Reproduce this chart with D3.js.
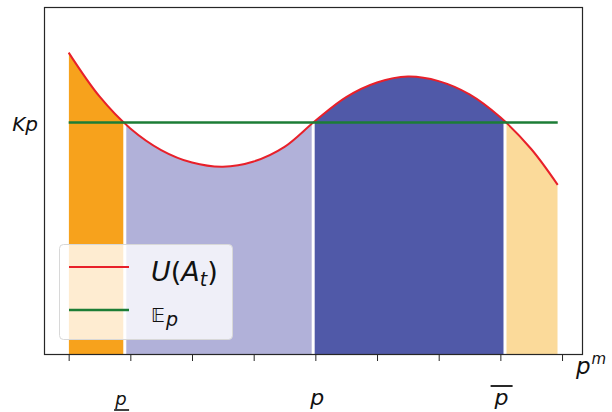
<!DOCTYPE html>
<html>
<head>
<meta charset="utf-8">
<script src="https://cdn.jsdelivr.net/npm/d3@7"></script>
<style>
  html, body { margin: 0; padding: 0; background: #ffffff; }
  svg { display: block; }
  text { font-family: "DejaVu Sans", sans-serif; }
</style>
</head>
<body>
<svg id="chart" width="612" height="412"></svg>
<script>
// Utility curve U(A_t) sampled along the price axis p^m
const priceGrid = [0, 0.5, 1.0, 1.5, 2.0, 2.5, 3.0, 3.5, 4.0, 4.5, 5.0, 5.5, 6.0, 6.5, 7.0, 7.5, 7.93];
const utility   = [8.69, 7.43, 6.51, 5.89, 5.53, 5.41, 5.56, 5.98, 6.73, 7.41, 7.83, 8.00, 7.87, 7.49, 6.83, 5.92, 4.89];

// Expected payoff level Kp
const kpLevel = 6.68;
const kpRange = [0, 7.93];

// Price points where U crosses Kp, splitting the shaded regions
const crossings = [0.91, 3.965, 7.075];
const regionColors = ["#f7a21c", "#b1b1d9", "#5059a8", "#fbda9a"];

// Axis ticks and the price labels below them
const tickValues = [0, 1, 2, 3, 4, 5, 6, 7, 8];
const priceLabels = [
  { pos: 0.85, kind: "under" },
  { pos: 4.03, kind: "plain" },
  { pos: 7.02, kind: "over" }
];

const legendItems = [
  { key: "U", color: "#e8202a", width: 2 },
  { key: "E", color: "#1c7d36", width: 2.5 }
];

const svg = d3.select("#chart");
const margin = { left: 44, right: 29, top: 7, bottom: 57 };
const W = 612, H = 412;

const x = d3.scaleLinear().domain([-0.4, 8.34]).range([margin.left, W - margin.right]);
const y = d3.scaleLinear().domain([0, 10]).range([H - margin.bottom, margin.top]);

const pts = priceGrid.map((p, i) => [p, utility[i]]);

// Region bounds along x
const bounds = [priceGrid[0], ...crossings, priceGrid[priceGrid.length - 1]];

const defs = svg.append("defs");
bounds.slice(0, -1).forEach((b, i) => {
  defs.append("clipPath").attr("id", "reg" + i)
    .append("rect")
    .attr("x", x(b))
    .attr("y", 0)
    .attr("width", x(bounds[i + 1]) - x(b))
    .attr("height", H);
});

const smooth = d3.curveCatmullRom.alpha(0.5);

const area = d3.area()
  .x(d => x(d[0]))
  .y0(y(0))
  .y1(d => y(d[1]))
  .curve(smooth);

const line = d3.line()
  .x(d => x(d[0]))
  .y(d => y(d[1]))
  .curve(smooth);

regionColors.forEach((c, i) => {
  svg.append("path")
    .datum(pts)
    .attr("d", area)
    .attr("fill", c)
    .attr("clip-path", `url(#reg${i})`);
});

// White separators at the crossing points
svg.append("g").selectAll("line")
  .data(crossings)
  .join("line")
  .attr("x1", d => x(d)).attr("x2", d => x(d))
  .attr("y1", y(0)).attr("y2", d => y(kpLevel))
  .attr("stroke", "#ffffff")
  .attr("stroke-width", 3);

// Utility curve
svg.append("path")
  .datum(pts)
  .attr("d", line)
  .attr("fill", "none")
  .attr("stroke", legendItems[0].color)
  .attr("stroke-width", 2);

// Kp level
svg.append("line")
  .attr("x1", x(kpRange[0])).attr("x2", x(kpRange[1]))
  .attr("y1", y(kpLevel)).attr("y2", y(kpLevel))
  .attr("stroke", legendItems[1].color)
  .attr("stroke-width", 2.5);

// Frame
svg.append("rect")
  .attr("x", margin.left + 0.5).attr("y", margin.top + 0.5)
  .attr("width", W - margin.left - margin.right - 1)
  .attr("height", H - margin.top - margin.bottom - 1)
  .attr("fill", "none")
  .attr("stroke", "#262626")
  .attr("stroke-width", 1.2);

// Bottom axis: ticks only
const xAxis = d3.axisBottom(x).tickValues(tickValues).tickSize(6).tickFormat("");
const gx = svg.append("g")
  .attr("transform", `translate(0,${y(0)})`)
  .call(xAxis);
gx.select(".domain").remove();
gx.selectAll(".tick line").attr("stroke", "#262626").attr("stroke-width", 1);

// y label Kp
svg.append("text")
  .attr("x", 38).attr("y", y(kpLevel) + 8)
  .attr("text-anchor", "end")
  .attr("font-size", 20)
  .attr("font-style", "italic")
  .attr("fill", "#111")
  .text("Kp");

// Price labels
priceLabels.forEach(l => {
  const cx = x(l.pos);
  const fs = l.kind === "under" ? 18 : 22;
  svg.append("text")
    .attr("x", cx).attr("y", 405)
    .attr("text-anchor", "middle")
    .attr("font-size", fs)
    .attr("font-style", "italic")
    .attr("fill", "#111")
    .text("p");
  if (l.kind === "under") {
    svg.append("line")
      .attr("x1", cx - 7).attr("x2", cx + 8)
      .attr("y1", 410).attr("y2", 410)
      .attr("stroke", "#111").attr("stroke-width", 1.6);
  } else if (l.kind === "over") {
    svg.append("line")
      .attr("x1", cx - 11).attr("x2", cx + 11)
      .attr("y1", 386).attr("y2", 386)
      .attr("stroke", "#111").attr("stroke-width", 1.8);
  }
});

// Axis label p^m
const pm = svg.append("text")
  .attr("x", 576).attr("y", 374)
  .attr("font-size", 23)
  .attr("font-style", "italic")
  .attr("fill", "#111");
pm.append("tspan").text("p");
pm.append("tspan").attr("font-size", 15).attr("dy", -10).attr("dx", 1).text("m");

// Legend
const lg = svg.append("g");
lg.append("rect")
  .attr("x", 59.5).attr("y", 244.5)
  .attr("width", 173).attr("height", 95)
  .attr("rx", 4).attr("ry", 4)
  .attr("fill", "#ffffff").attr("fill-opacity", 0.8)
  .attr("stroke", "#d8d8d8").attr("stroke-width", 1);

const rowY = [267, 310];
legendItems.forEach((d, i) => {
  lg.append("line")
    .attr("x1", 69).attr("x2", 129)
    .attr("y1", rowY[i]).attr("y2", rowY[i])
    .attr("stroke", d.color)
    .attr("stroke-width", d.width);
});

const t1 = lg.append("text")
  .attr("x", 151).attr("y", 281)
  .attr("font-size", 27)
  .attr("fill", "#111");
t1.append("tspan").attr("font-style", "italic").text("U");
t1.append("tspan").text("(");
t1.append("tspan").attr("font-style", "italic").text("A");
t1.append("tspan").attr("font-style", "italic").attr("font-size", 19).attr("dy", 5).text("t");
t1.append("tspan").attr("dy", -5).text(")");

const t2 = lg.append("text")
  .attr("x", 151).attr("y", 322)
  .attr("font-size", 19)
  .attr("fill", "#111");
t2.append("tspan").text("𝔼");
t2.append("tspan").attr("font-style", "italic").attr("font-size", 19).attr("dy", 4).attr("dx", 1).text("p");
</script>
</body>
</html>
